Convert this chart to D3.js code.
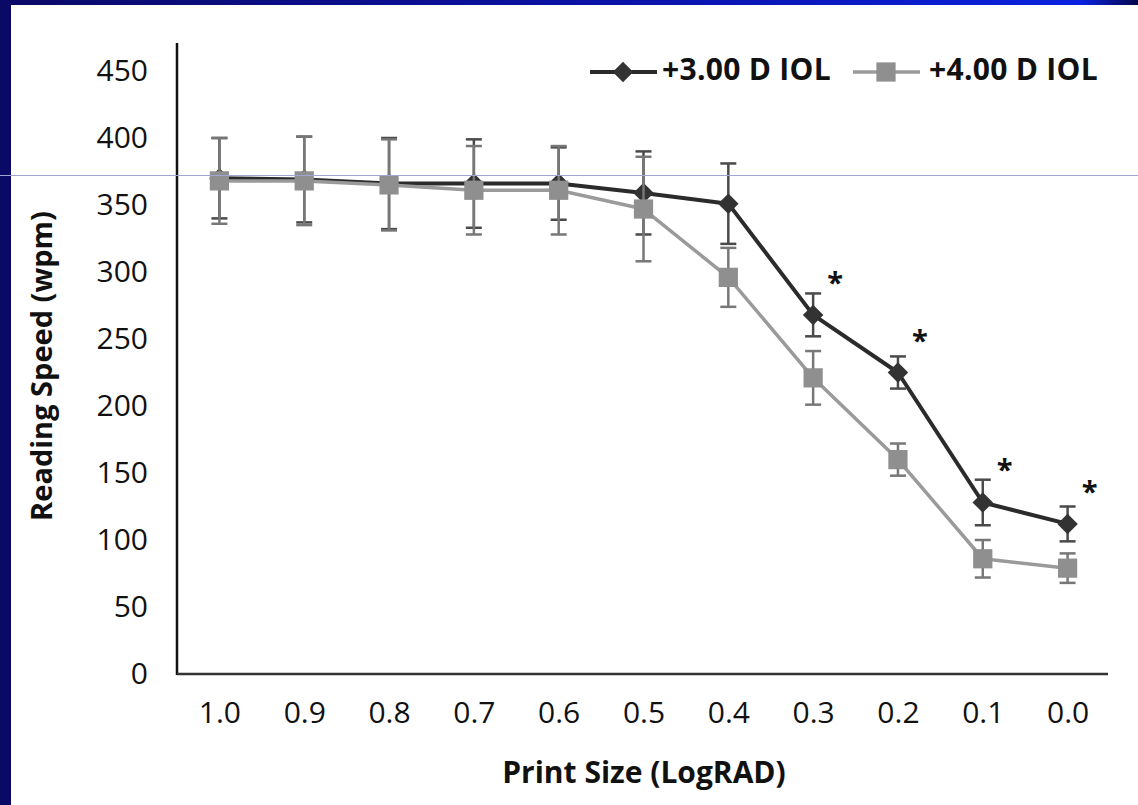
<!DOCTYPE html>
<html>
<head>
<meta charset="utf-8">
<script src="https://cdn.jsdelivr.net/npm/d3@7"></script>
<style>
  html, body { margin: 0; padding: 0; background: #ffffff; }
  svg { display: block; }
</style>
</head>
<body>
<script>
// ---------- data ----------
const categories = ["1.0", "0.9", "0.8", "0.7", "0.6", "0.5", "0.4", "0.3", "0.2", "0.1", "0.0"];
const seriesNames = ["+3.00 D IOL", "+4.00 D IOL"];
const iol3Mean = [370, 369, 366, 366, 366, 359, 351, 268, 225, 128, 112];
const iol3Err  = [30, 32, 34, 33, 27, 31, 30, 16, 12, 17, 13];
const iol4Mean = [368, 368, 365, 361, 361, 347, 296, 221, 160, 86, 79];
const iol4Err  = [32, 33, 34, 33, 33, 39, 22, 20, 12, 14, 11];
const significant = ["0.3", "0.2", "0.1", "0.0"];
const yTicks = [0, 50, 100, 150, 200, 250, 300, 350, 400, 450];
const yTitle = "Reading Speed (wpm)";
const xTitle = "Print Size (LogRAD)";

// ---------- setup ----------
const W = 1138, H = 805;
const svg = d3.select("body").append("svg").attr("width", W).attr("height", H);
const FONT = "'Open Sans', 'Liberation Sans', sans-serif";

// frame (slide background)
const defs = svg.append("defs");
const grad = defs.append("linearGradient").attr("id", "topgrad").attr("x1", "0").attr("x2", "1");
grad.append("stop").attr("offset", "0").attr("stop-color", "#0b0966");
grad.append("stop").attr("offset", "0.55").attr("stop-color", "#0a12a8");
grad.append("stop").attr("offset", "0.95").attr("stop-color", "#0a22e0");
grad.append("stop").attr("offset", "1").attr("stop-color", "#06064a");
svg.append("rect").attr("x", 0).attr("y", 0).attr("width", W).attr("height", H).attr("fill", "#ffffff");
svg.append("rect").attr("x", 0).attr("y", 0).attr("width", W).attr("height", 5).attr("fill", "url(#topgrad)");
svg.append("rect").attr("x", 0).attr("y", 0).attr("width", 11).attr("height", H).attr("fill", "#0b0966");

// scales
const x = d3.scalePoint().domain(categories).range([177, 1110]).padding(0.5);
const y = d3.scaleLinear().domain([0, 450]).range([674, 71]);

// axes
const yAxis = svg.append("g").attr("transform", "translate(177,0)")
  .call(d3.axisLeft(y).tickValues(yTicks).tickSize(0).tickPadding(29));
yAxis.select(".domain").remove();
yAxis.selectAll("text").attr("font-family", FONT).attr("font-size", 30).attr("fill", "#111");

const xAxis = svg.append("g").attr("transform", "translate(0,674)")
  .call(d3.axisBottom(x).tickSize(0).tickPadding(28));
xAxis.select(".domain").remove();
xAxis.selectAll("text").attr("font-family", FONT).attr("font-size", 30).attr("fill", "#111");

// axis lines
svg.append("line").attr("x1", 177).attr("x2", 177).attr("y1", 43).attr("y2", y(0) + 1)
  .attr("stroke", "#111").attr("stroke-width", 2.5);
svg.append("line").attr("x1", 177).attr("x2", 1108).attr("y1", y(0)).attr("y2", y(0))
  .attr("stroke", "#333").attr("stroke-width", 2.5);

// titles
svg.append("text").attr("transform", "translate(44,366) rotate(-90)")
  .attr("text-anchor", "middle").attr("dominant-baseline", "middle")
  .attr("font-family", FONT).attr("font-weight", "bold").attr("font-size", 29).attr("fill", "#111")
  .text(yTitle);
svg.append("text").attr("x", 644).attr("y", 775)
  .attr("text-anchor", "middle").attr("dominant-baseline", "middle")
  .attr("font-family", FONT).attr("font-weight", "bold").attr("font-size", 30).attr("fill", "#111")
  .text(xTitle);

// series
const series = [
  { name: seriesNames[0], mean: iol3Mean, err: iol3Err, line: "#2b2b2b", lw: 4, fill: "#333333", bar: "#4a4a4a", shape: "diamond" },
  { name: seriesNames[1], mean: iol4Mean, err: iol4Err, line: "#9a9a9a", lw: 3.5, fill: "#8f8f8f", bar: "#777777", shape: "square" }
];
const diamond = d3.symbol().type(d3.symbolSquare).size(210);
const square = d3.symbol().type(d3.symbolSquare).size(370);
const capW = 8;

series.forEach(s => {
  const pts = categories.map((c, i) => ({ c, v: s.mean[i], e: s.err[i] }));
  const g = svg.append("g");
  g.append("path").datum(pts)
    .attr("d", d3.line().x(d => x(d.c)).y(d => y(d.v)))
    .attr("fill", "none").attr("stroke", s.line).attr("stroke-width", s.lw).attr("stroke-linejoin", "round");
  const eb = g.selectAll(".eb").data(pts).enter().append("g").attr("class", "eb")
    .attr("stroke", s.bar).attr("stroke-width", 2.5);
  eb.append("line").attr("x1", d => x(d.c)).attr("x2", d => x(d.c))
    .attr("y1", d => y(d.v + d.e)).attr("y2", d => y(d.v - d.e));
  eb.append("line").attr("x1", d => x(d.c) - capW).attr("x2", d => x(d.c) + capW)
    .attr("y1", d => y(d.v + d.e)).attr("y2", d => y(d.v + d.e));
  eb.append("line").attr("x1", d => x(d.c) - capW).attr("x2", d => x(d.c) + capW)
    .attr("y1", d => y(d.v - d.e)).attr("y2", d => y(d.v - d.e));
  g.selectAll(".mk").data(pts).enter().append("path").attr("class", "mk")
    .attr("d", s.shape === "diamond" ? diamond : square)
    .attr("transform", d => "translate(" + x(d.c) + "," + y(d.v) + ")" + (s.shape === "diamond" ? " rotate(45)" : ""))
    .attr("fill", s.fill);
});

// significance asterisks
svg.selectAll(".sig").data(significant).enter().append("text").attr("class", "sig")
  .attr("x", c => x(c) + 22)
  .attr("y", c => y(iol3Mean[categories.indexOf(c)]) - 22)
  .attr("text-anchor", "middle")
  .attr("font-family", FONT).attr("font-weight", "bold").attr("font-size", 29).attr("fill", "#111")
  .text("*");

// legend
const legend = [
  { s: series[0], lx: 590, tx: 662 },
  { s: series[1], lx: 853, tx: 929 }
];
legend.forEach(l => {
  const g = svg.append("g");
  g.append("line").attr("x1", l.lx).attr("x2", l.lx + 67).attr("y1", 72).attr("y2", 72)
    .attr("stroke", l.s.line).attr("stroke-width", l.s.lw);
  g.append("path").attr("d", l.s.shape === "diamond" ? diamond : square)
    .attr("transform", "translate(" + (l.lx + 33) + ",72)" + (l.s.shape === "diamond" ? " rotate(45)" : ""))
    .attr("fill", l.s.fill);
  g.append("text").attr("x", l.tx).attr("y", 72).attr("dominant-baseline", "middle")
    .attr("font-family", FONT).attr("font-weight", "bold").attr("font-size", 30).attr("fill", "#111")
    .attr("letter-spacing", 0.3)
    .text(l.s.name);
});

// scan artifact: thin horizontal line across the slide
svg.append("line").attr("x1", 0).attr("x2", W).attr("y1", 175.5).attr("y2", 175.5)
  .attr("stroke", "#a4a4d4").attr("stroke-width", 1);
</script>
</body>
</html>
